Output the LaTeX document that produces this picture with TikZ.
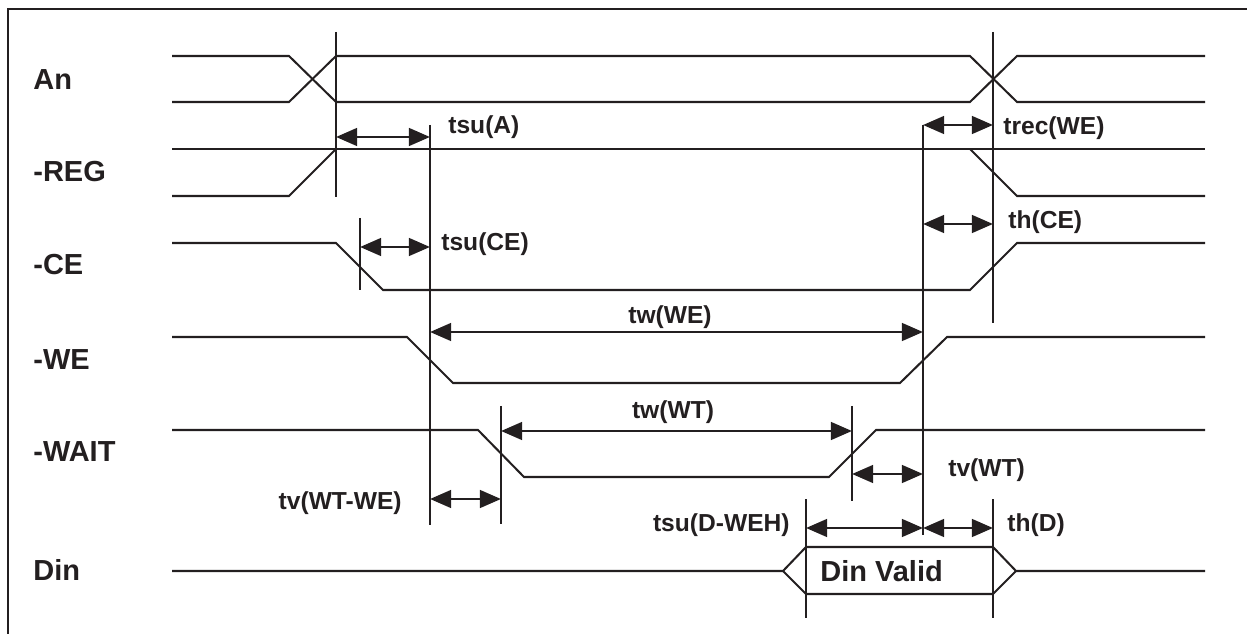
\documentclass[tikz,border=0pt]{standalone}
\usepackage{fontspec}
\setmainfont{Liberation Sans}
\usetikzlibrary{arrows.meta}

\definecolor{ink}{RGB}{35,31,32}

\tikzset{
  wave/.style={draw=ink, line width=1.15pt},
  refline/.style={draw=ink, line width=1.15pt},
  timearrow/.style={draw=ink, line width=1.6pt, {Triangle[length=12pt,width=10pt]}-{Triangle[length=12pt,width=10pt]}},
  signame/.style={anchor=west, inner sep=0pt, text=ink, font=\fontsize{16.5}{18}\selectfont\bfseries},
  timename/.style={inner sep=0pt, text=ink, font=\fontsize{14}{16}\selectfont\bfseries}
}

\begin{document}
\begin{tikzpicture}[x=0.02cm, y=-0.02cm] % 1 unit = 1 pixel of the reference

    \useasboundingbox (0,0) rectangle (1247,634);

    % Outer frame (top and left only)
    \draw[draw=ink, line width=1.2pt] (8,634) -- (8,9) -- (1247,9);

    % Signal names
    \node[signame] (An)   at (33,80)  {An};
    \node[signame] (REG)  at (33,172) {-REG};
    \node[signame] (CE)   at (33,265) {-CE};
    \node[signame] (WE)   at (33,360) {-WE};
    \node[signame] (WAIT) at (33,452) {-WAIT};
    \node[signame] (Din)  at (33,570) {Din};

    % Address bus An
    \draw[wave] (172,56) -- (289,56) -- (336,102) -- (970,102) -- (1017,56) -- (1205,56);
    \draw[wave] (172,102) -- (289,102) -- (336,56) -- (970,56) -- (1017,102) -- (1205,102);

    % -REG
    \draw[wave] (172,149) -- (1205,149);
    \draw[wave] (172,196) -- (289,196) -- (336,149);
    \draw[wave] (970,149) -- (1017,196) -- (1205,196);

    % -CE
    \draw[wave] (172,243) -- (336,243) -- (383,290) -- (970,290) -- (1017,243) -- (1205,243);

    % -WE
    \draw[wave] (172,337) -- (407,337) -- (453,383) -- (900,383) -- (947,337) -- (1205,337);

    % -WAIT
    \draw[wave] (172,430) -- (478,430) -- (524,477) -- (829,477) -- (876,430) -- (1205,430);

    % Din with valid window
    \draw[wave] (172,571) -- (783,571) -- (806,547) -- (993,547) -- (1016,571) -- (1205,571);
    \draw[wave] (783,571) -- (806,594) -- (993,594) -- (1016,571);
    \node[signame] (valid) at (820,571) {Din Valid};

    % Vertical reference lines
    \foreach \x/\ya/\yb in {336/32/197, 360/218/290, 430/125/525, 923/125/535,
                            993/32/323, 501/406/524, 852/406/501, 806/499/618, 993/499/618}
        \draw[refline] (\x,\ya) -- (\x,\yb);

    % Arrow end points
    \coordinate (suA1) at (336,137);  \coordinate (suA2) at (430,137);
    \coordinate (suC1) at (360,247);  \coordinate (suC2) at (430,247);
    \coordinate (rec1) at (923,125);  \coordinate (rec2) at (993,125);
    \coordinate (hC1)  at (923,224);  \coordinate (hC2)  at (993,224);
    \coordinate (wWE1) at (430,332);  \coordinate (wWE2) at (923,332);
    \coordinate (wWT1) at (501,431);  \coordinate (wWT2) at (852,431);
    \coordinate (vWT1) at (852,474);  \coordinate (vWT2) at (923,474);
    \coordinate (vWW1) at (430,499);  \coordinate (vWW2) at (501,499);
    \coordinate (suD1) at (806,528);  \coordinate (suD2) at (923,528);
    \coordinate (hD1)  at (923,528);  \coordinate (hD2)  at (993,528);

    % Timing arrows
    \draw[timearrow] (suA1) -- (suA2);
    \draw[timearrow] (suC1) -- (suC2);
    \draw[timearrow] (rec1) -- (rec2);
    \draw[timearrow] (hC1) -- (hC2);
    \draw[timearrow] (wWE1) -- (wWE2);
    \draw[timearrow] (wWT1) -- (wWT2);
    \draw[timearrow] (vWT1) -- (vWT2);
    \draw[timearrow] (vWW1) -- (vWW2);
    \draw[timearrow] (suD1) -- (suD2);
    \draw[timearrow] (hD1) -- (hD2);

    % Timing labels
    \node[timename, anchor=west] (tsuA)  at (448,127)  {tsu(A)};
    \node[timename, anchor=west] (tsuCE) at (441,244)  {tsu(CE)};
    \node[timename, anchor=west] (trec)  at (1003,128) {trec(WE)};
    \node[timename, anchor=west] (thCE)  at (1008,222) {th(CE)};
    \node[timename]              (twWE)  at (670,317)  {tw(WE)};
    \node[timename]              (twWT)  at (673,412)  {tw(WT)};
    \node[timename, anchor=west] (tvWT)  at (948,470)  {tv(WT)};
    \node[timename, anchor=east] (tvWW)  at (402,503)  {tv(WT-WE)};
    \node[timename, anchor=east] (tsuD)  at (790,525)  {tsu(D-WEH)};
    \node[timename, anchor=west] (thD)   at (1007,525) {th(D)};

\end{tikzpicture}
\end{document}
